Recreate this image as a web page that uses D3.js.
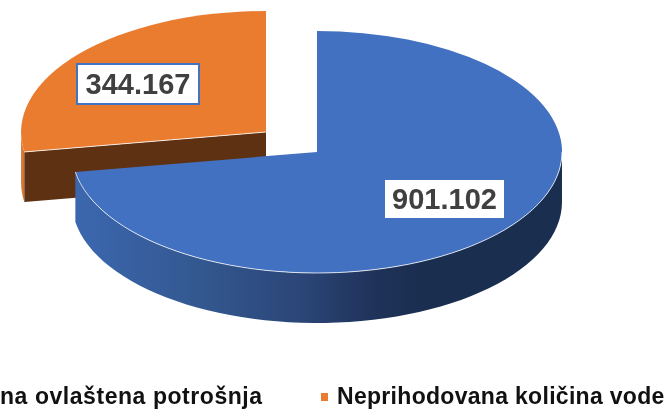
<!DOCTYPE html>
<html>
<head>
<meta charset="utf-8">
<script src="https://cdn.jsdelivr.net/npm/d3@7"></script>
<style>
html,body{margin:0;padding:0;background:#fff;overflow:hidden}
svg{display:block;filter:blur(0.4px)}
text{font-family:"Liberation Sans",Arial,sans-serif}
</style>
</head>
<body>
<svg id="chart" width="666" height="412"></svg>
<script>
const categories = ["na ovlaštena potrošnja", "Neprihodovana količina vode"];
const values = [901102, 344167];
const valueLabels = ["901.102", "344.167"];
const colors = ["#4271c1", "#ea7c30"];

const cx = 317, cy = 152, rx = 245, ry = 121, depth = 50;
const explode = {dx: -51, dy: -20};

const svg = d3.select("#chart");
const defs = svg.append("defs");
const grad = defs.append("linearGradient").attr("id", "blueWall")
  .attr("gradientUnits", "userSpaceOnUse")
  .attr("x1", 72).attr("x2", 562).attr("y1", 0).attr("y2", 0);
[[0, "#3c68b0"], [0.27, "#33578f"], [0.48, "#2a4475"], [0.62, "#1f3259"], [0.72, "#1a2e50"], [1, "#1a2e50"]]
  .forEach(([o, c]) => grad.append("stop").attr("offset", o).attr("stop-color", c));
const grad2 = defs.append("linearGradient").attr("id", "orangeWall")
  .attr("gradientUnits", "userSpaceOnUse")
  .attr("x1", 20).attr("x2", 25).attr("y1", 0).attr("y2", 0);
grad2.append("stop").attr("offset", 0).attr("stop-color", "#e28a4a");
grad2.append("stop").attr("offset", 1).attr("stop-color", "#c86a28");

const pie = d3.pie().sort(null).value(d => d);
const arcs = pie(values);

const unit = d3.arc().innerRadius(0).outerRadius(1);
const px = (c, a) => c.x + rx * Math.sin(a);
const py = (c, a) => c.y - ry * Math.cos(a);

function wall(c, a0, a1) {
  const angs = d3.range(0, 61).map(i => a0 + (a1 - a0) * i / 60);
  return d3.area().x(a => px(c, a)).y0(a => py(c, a)).y1(a => py(c, a) + depth)(angs);
}
function cut(c, a) {
  const line = d3.line();
  return line([[c.x, c.y], [px(c, a), py(c, a)], [px(c, a), py(c, a) + depth], [c.x, c.y + depth]]) + "Z";
}
function drawTop(g, c, d, fill) {
  g.append("path")
    .attr("d", unit(d))
    .attr("transform", `translate(${c.x},${c.y}) scale(${rx},${ry})`)
    .attr("fill", fill);
}
function rim(g, c, a0, a1) {
  const angs = d3.range(0, 61).map(i => a0 + (a1 - a0) * i / 60);
  g.append("path")
    .attr("d", d3.line().x(a => px(c, a)).y(a => py(c, a))(angs))
    .attr("fill", "none").attr("stroke", "#fff").attr("stroke-opacity", 0.75).attr("stroke-width", 1);
}

const chart = svg.append("g");

// orange slice, pulled out
const oc = {x: cx + explode.dx, y: cy + explode.dy};
const oa = arcs[1];
chart.append("path").attr("d", wall(oc, oa.startAngle, 3 * Math.PI / 2)).attr("fill", "url(#orangeWall)");
chart.append("path").attr("d", cut(oc, oa.startAngle)).attr("fill", "#5f3113");
drawTop(chart, oc, oa, colors[1]);
chart.append("path").attr("d", d3.line()([[oc.x, oc.y], [px(oc, oa.startAngle), py(oc, oa.startAngle)]]))
  .attr("stroke", "#fff").attr("stroke-opacity", 0.8).attr("fill", "none");

// blue slice
const bc = {x: cx, y: cy};
const ba = arcs[0];
chart.append("path").attr("d", wall(bc, Math.PI / 2, ba.endAngle)).attr("fill", "url(#blueWall)");
drawTop(chart, bc, ba, colors[0]);
rim(chart, bc, Math.PI / 2, ba.endAngle);

// value labels
const labelBoxes = [
  {x: 385, y: 180, w: 119, h: 38, stroke: "none"},
  {x: 77, y: 64, w: 122, h: 40, stroke: "#4472c4"}
];
valueLabels.forEach((t, i) => {
  const b = labelBoxes[i];
  svg.append("rect").attr("x", b.x).attr("y", b.y).attr("width", b.w).attr("height", b.h)
    .attr("fill", "#fff").attr("stroke", b.stroke).attr("stroke-width", 2);
  svg.append("text").attr("x", b.x + b.w / 2).attr("y", b.y + b.h / 2 + 10)
    .attr("text-anchor", "middle").attr("font-size", 29).attr("font-weight", 700)
    .attr("fill", "#404040").text(t);
});

// legend
svg.append("text").attr("x", 0).attr("y", 404).attr("letter-spacing", 0.55)
  .attr("font-size", 23).attr("font-weight", 700).attr("fill", "#111").text(categories[0]);
svg.append("rect").attr("x", 321).attr("y", 393).attr("width", 7).attr("height", 8).attr("fill", colors[1]);
svg.append("text").attr("x", 337).attr("y", 404).attr("letter-spacing", 0.3)
  .attr("font-size", 23).attr("font-weight", 700).attr("fill", "#111").text(categories[1]);
</script>
</body>
</html>
